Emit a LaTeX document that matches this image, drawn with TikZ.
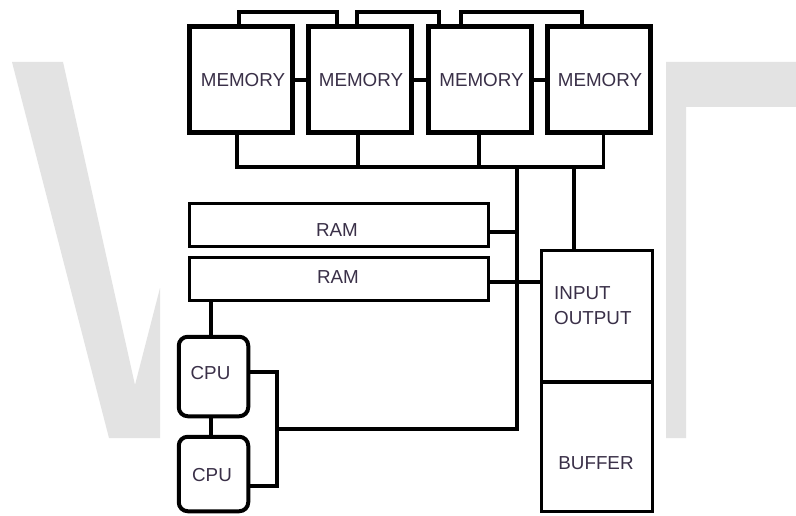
\documentclass[tikz,border=0pt]{standalone}
\usepackage{fontspec}
\setmainfont{Liberation Sans}
\usetikzlibrary{calc}
\definecolor{wm}{HTML}{E3E3E3}
\definecolor{txtc}{HTML}{3A3048}
\begin{document}
\begin{tikzpicture}[x=1pt,y=-1pt,
  memb/.style={draw=black,line width=5pt,minimum width=103pt,minimum height=106pt,inner sep=0pt,outer sep=0pt},
  ramb/.style={draw=black,line width=3pt,minimum width=299pt,minimum height=43pt,inner sep=0pt,outer sep=0pt},
  cpub/.style={draw=black,line width=4pt,rounded corners=9pt,minimum width=69.5pt,inner sep=0pt,outer sep=0pt},
  iob/.style={draw=black,line width=3.2pt,minimum width=111pt,inner sep=0pt,outer sep=0pt},
  txt/.style={text=txtc,font=\fontsize{18.8}{25}\selectfont,inner sep=0pt},
  conn/.style={draw=black,line width=3.3pt},
  wmark/.style={fill=wm,draw=none}]
\useasboundingbox (0,0) rectangle (796,516);
\fill[white] (0,0) rectangle (796,516);
% watermark
\fill[wmark] (12,62) -- (63,62) -- (135,385) -- (160,288) -- (160,438) -- (109,438) -- cycle;
\fill[wmark] (666,62) -- (796,62) -- (796,107) -- (686,107) -- (686,438) -- (666,438) -- cycle;
% memory boxes
\node[memb] (M1) at (241,80) {};
\node[memb] (M2) at (359.5,80) {};
\node[memb] (M3) at (480,80) {};
\node[memb] (M4) at (599,80) {};
\node[txt] (t1) at (243,80) {MEMORY};
\node[txt] (t2) at (361,80) {MEMORY};
\node[txt] (t3) at (481.5,80) {MEMORY};
\node[txt] (t4) at (600,80) {MEMORY};
% RAM
\node[ramb] (R1) at (339,225.5) {};
\node[ramb] (R2) at (339,278.5) {};
\node[txt] (r1t) at (337,230) {RAM};
\node[txt] (r2t) at (338,277) {RAM};
% IO and buffer
\node[iob,minimum height=131.5pt] (IO) at (597,316.25) {};
\node[iob,minimum height=129.5pt] (BUF) at (597,446.75) {};
\node[txt,align=left,anchor=west] (iot) at (554,305.5) {INPUT\\OUTPUT};
\node[txt] (buft) at (596,463) {BUFFER};
% CPU
\node[cpub,minimum height=79.5pt] (C1) at (213.5,376.5) {};
\node[cpub,minimum height=74.5pt] (C2) at (213.5,474) {};
\node[txt] (c1t) at (210.5,373) {CPU};
\node[txt] (c2t) at (212,475) {CPU};
% bus coordinates
\coordinate (busL) at (237,167);
\coordinate (busR) at (603.5,167);
\coordinate (vA) at (517,167);
\coordinate (vB) at (574,167);
\coordinate (cpuJ) at (277,429);
\coordinate (vAbot) at (517,429);
% memory side links
\draw[conn] (M1.east) -- (M2.west);
\draw[conn] (M2.east) -- (M3.west);
\draw[conn] (M3.east) -- (M4.west);
% top brackets
\draw[conn] (M1.north -| 239,0) |- (337,12) -- (M2.north -| 337,0);
\draw[conn] (M2.north -| 357,0) |- (439,12) -- (M3.north -| 439,0);
\draw[conn] (M3.north -| 461,0) |- (582,12) -- (M4.north -| 582,0);
% bottom bus
\draw[conn] (M1.south -| busL) -- (busL) -- (busR) -- (M4.south -| busR);
\draw[conn] (M2.south -| 358,0) -- (358,167);
\draw[conn] (M3.south -| 479,0) -- (479,167);
% verticals
\draw[conn] (vA) -- (vAbot) -- (cpuJ);
\draw[conn] (vB) -- (IO.north -| vB);
% RAM links
\draw[conn] (R1.east |- 0,232) -- (517,232);
\draw[conn] (R2.east |- 0,282) -- (IO.west |- 0,282);
% CPU links
\draw[conn] (R2.south -| 211,0) -- (C1.north -| 211,0);
\draw[conn] (C1.south -| 211,0) -- (C2.north -| 211,0);
\draw[conn] (C1.east |- 0,372) -| (277,486) -- (C2.east |- 0,486);
\end{tikzpicture}
\end{document}
